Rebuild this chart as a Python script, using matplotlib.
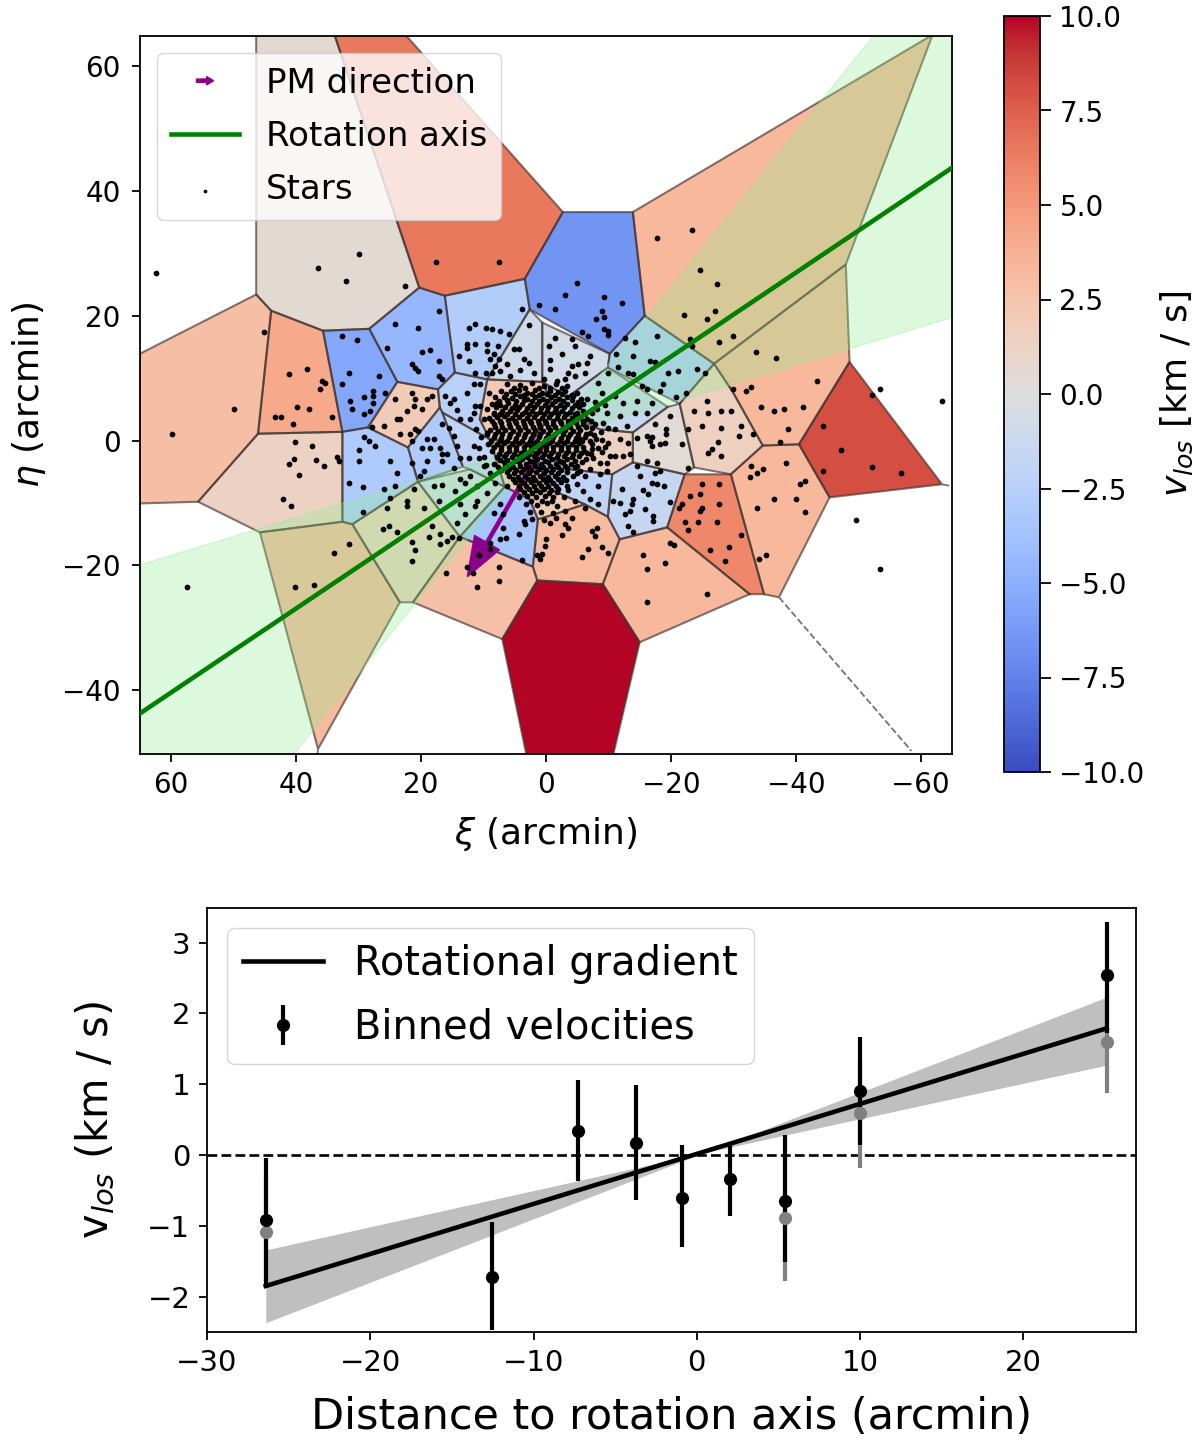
import matplotlib
matplotlib.use("Agg")
import matplotlib.pyplot as plt
import matplotlib.patches as mpatches
from matplotlib.legend_handler import HandlerPatch
from matplotlib.cm import ScalarMappable
from matplotlib.colors import Normalize

# ---- Voronoi cells: vertices (xi, eta) in arcmin, and mean velocity in km/s
cell_vertices = [
 [(66,13.4),(46.4,23.4),(44,20.8),(46.1,1.1),(55.7,-9.8),(66,-10.1)],
 [(46.4,66),(34.2,66),(20.3,24.5),(28.3,17.9),(35.7,17.6),(44,20.8),(46.4,23.4)],
 [(34.2,66),(23.4,66),(-2.7,36.6),(3.4,25.9),(16.2,23.2),(20.3,24.5)],
 [(-2.7,36.6),(-13.9,36.6),(-15.8,20),(-10.2,13.9),(2.6,21),(3.4,25.9)],
 [(16.2,23.2),(3.4,25.9),(2.6,21),(9.4,9.8),(14.6,10.9)],
 [(2.6,21),(0.6,18.9),(0.6,9.4),(9.4,9.8)],
 [(0.6,18.9),(-10.2,13.9),(-9.9,11.7),(-3.5,7),(0.6,9.4)],
 [(-15.8,20),(-26.9,12.3),(-21.4,5.9),(-9.9,11.7),(-10.2,13.9)],
 [(-13.9,36.6),(-61.9,65),(-48,28.2),(-26.9,12.3),(-15.8,20)],
 [(-48,28.2),(-48.6,12.6),(-40.5,-0.6),(-34.7,-0.8),(-29.9,7.8),(-26.9,12.3)],
 [(-48.6,12.6),(-63.4,-7),(-45.4,-9.1),(-40.5,-0.6)],
 [(-26.9,12.3),(-29.9,7.8),(-34.7,-0.8),(-29.6,-5.4),(-23.7,-4.3),(-21.4,5.9)],
 [(-21.4,5.9),(-19.5,5.4),(-13.9,1.3),(-13.9,-3.5),(-22.2,-5.4),(-23.7,-4.3)],
 [(-13.9,-3.5),(-10.6,-5.4),(-9.9,-12.2),(-11.8,-15.8),(-19.4,-13.9),(-22.2,-5.4)],
 [(-19.4,-13.9),(-22.2,-5.4),(-29.6,-5.4),(-34.9,-24.6),(-32.6,-24.6)],
 [(-29.6,-5.4),(-34.7,-0.8),(-40.5,-0.6),(-45.4,-9.1),(-37.3,-25.1),(-34.9,-24.6)],
 [(-11.8,-15.8),(-19.4,-13.9),(-32.6,-24.6),(-15,-32.3),(-9.1,-23)],
 [(1.4,-22.4),(-9.1,-23),(-15,-32.3),(-10.6,-51),(3,-51),(7,-31.8)],
 [(1.4,-22.4),(-9.1,-23),(-11.8,-15.8),(-9.9,-12.2),(-6.2,-10.2),(-1.4,-11.8),(1.3,-12.6),(2.1,-20.2)],
 [(21.3,-25.9),(13.8,-15.4),(2.1,-20.2),(1.4,-22.4),(7,-31.8)],
 [(13.8,-15.4),(6.6,-7.4),(2.6,-9.4),(1.3,-12.6),(2.1,-20.2)],
 [(20.5,-6.6),(12.2,-4.6),(6.6,-7.4),(13.8,-15.4)],
 [(45.8,-14.7),(32.6,-13),(31,-13.4),(23.4,-25.9),(36.5,-49.4)],
 [(31,-13.4),(20.5,-6.6),(13.8,-15.4),(21.3,-25.9),(23.4,-25.9)],
 [(32.6,1.4),(28.5,2.1),(22.1,-1.1),(20.5,-6.6),(31,-13.4),(32.6,-13)],
 [(23.8,9.4),(17.3,8.2),(17,5.3),(22.1,-1.1),(28.5,2.1)],
 [(35.7,17.6),(28.3,17.9),(23.8,9.4),(28.5,2.1),(32.6,1.4)],
 [(28.3,17.9),(20.3,24.5),(16.2,23.2),(14.6,10.9),(17.3,8.2),(23.8,9.4)],
 [(17,5.3),(16.6,4.5),(13.3,-4.2),(20.5,-6.6),(22.1,-1.1)],
 [(17.3,8.2),(14.6,10.9),(9.4,9.8),(10.6,3.4),(9,0.2),(16.6,4.5),(17,5.3)],
 [(13.3,-4.2),(16.6,4.5),(9,0.2),(6.6,-7.4),(12.2,-4.6)],
 [(9.4,9.8),(0.6,9.4),(-1.4,5),(2.6,-0.6),(9,0.2),(10.6,3.4)],
 [(0.6,9.4),(-3.5,7),(-9.9,11.7),(-19.5,5.4),(-13.9,1.3),(-8.6,1.8),(-1.4,5)],
 [(-1.4,5),(-8.6,1.8),(-13.9,1.3),(-13.9,-3.5),(-10.6,-5.4),(-3.8,-4.6),(2.6,-0.6)],
 [(2.6,-0.6),(-3.8,-4.6),(-10.6,-5.4),(-9.9,-12.2),(-6.2,-10.2),(-0.6,-7.8)],
 [(9,0.2),(2.6,-0.6),(-0.6,-7.8),(-6.2,-10.2),(-1.4,-11.8),(1.3,-12.6),(2.6,-9.4),(6.6,-7.4)],
 [(32.6,1.4),(46.1,1.1),(44,20.8),(35.7,17.6)],
 [(32.6,1.4),(46.1,1.1),(55.7,-9.8),(45.8,-14.7),(32.6,-13)],
]
cell_velocity = [2.9,0.5,6.5,-6.5,-2.8,-1.0,-0.8,-3.0,3.3,3.3,8.2,1.5,0.4,-1.7,5.8,3.3,3.3,10.0,
                 3.2,2.8,-3.5,-1.0,3.2,1.5,-3.0,2.0,-5.5,-4.5,-3.0,-2.5,-2.0,2.0,-1.5,1.5,-2.0,2.0,
                 4.2,1.4]

open_edge_xi = [-37.3,-58.5]
open_edge_eta = [-25.1,-49.7]
tail_xi = [36.5,36.6]
tail_eta = [-49.4,-50.2]
tail2_xi = [-63.4,-64.4]
tail2_eta = [-7,-7.2]

# ---- member stars (xi, eta) in arcmin
stars_outer = [
(62.5,26.9),(30,29.9),(36.5,27.6),(32,25.6),(22.5,24.7),(17.6,28.6),(7.5,28.6),(45.1,17.4),(50,5),(59.8,1.1),
(41.1,10.6),(38.2,11.5),(35.9,9.5),(35.4,9.2),(36.2,8.3),(39.8,5.3),(37.9,5),(43.4,3.7),(42.5,3.7),(40.5,2.7),
(34.3,3.7),(32.7,16.8),(30.3,16.1),(31.6,10.9),(32.6,9),(26.8,10.3),(27.7,7.9),(25.8,7.6),(29.1,7),(27.7,7.1),
(31.4,6.3),(27.7,6),(31,5),(28.2,4.7),(29.1,4.3),(24.2,18.7),(20.5,18.1),(17.2,20.7),(25.5,14.8),(19.8,14.2),
(18.6,14.5),(17.2,12.8),(21.5,12.2),(20.9,11.6),(20.5,11.1),(17.2,10.3),(16.7,9.8),(24.2,6.6),(21.5,7.6),(21,6.7),
(19.1,6.6),(18.3,7.1),(21.2,5.5),(22.3,4.7),(19.9,5),(23.9,3.4),(23.4,3.4),(26,2.3),(27.8,2.1),(23.4,1.1),
(21,1.8),(21.8,1),(21.5,-0.1),(20.5,1.5),(40.2,-0.2),(37.5,-0.9),(40.4,-2.9),(41.1,-3.8),(36.9,-3.1),(33.5,-2.6),
(33.2,-3.3),(35.5,-4.1),(39.5,-5.5),(42.1,-9.4),(40.9,-10.4),(29.1,0.5),(28.4,-0.1),(27.4,-0.9),(30,-1.5),(30,-3.3),
(25,-3.3),(23.8,-5.2),(31.6,-6.8),(29.3,-7.4),(26,-7.8),(24.2,-7.2),(25,-9.2),(29.3,-11.4),(25.5,-10.8),(22.2,-9.7),
(22.2,-10.4),(19.5,-10.8),(21.1,-7.7),(26.1,-14.1),(25.1,-13.7),(23.8,-14.6),(31.6,-16.6),(33.9,-18),(21.5,-16.3),(18.3,-13.7),
(18.8,-15.4),(17,-15.0),(16.9,-16.6),(15.9,-16.1),(15.1,-15.4),(13.9,-15.6),(20.9,-17.5),(21.5,-19.3),(57.5,-23.5),(40.2,-23.5),
(37.2,-23.2),(10.7,-18.3),(12.6,-20.2),(11.7,-21.2),(16,-21.2),(7.5,-20.2),(7.5,-22.5),(11,-23.5),(9,-17.4),(3.8,-19.2),
(1.5,-18.4),(0.7,-18.2),(3.8,21.1),(1.1,21.7),(2.8,18.5),
(11.4,18.7),(12.3,18.1),(9.6,18.1),(8.7,17.8),(7.4,17.5),(6,17),(12.7,15.5),(11.4,15.5),(12.7,14.8),(9.5,15.5),
(7.7,15.1),(9.5,14.3),(8.4,13.8),(5.2,14.6),(4.4,14.6),(14,13.5),(12.3,12.8),(7.6,13),(6.3,12.2),(8.2,11.9),
(9,13),(3.6,13),(2.8,12.4),(4.2,11.3),(9.6,10.8),(11.4,10.8),(8.7,10.8),(7.4,11.1),(2,10.8),(5.8,10.3),
(12.7,7.6),(14.8,6.6),(14.3,4.9),(16.2,7.1),(11.6,9),(10.6,9),(9.2,7.6),(11.6,4.4),(13.8,3.4),(10,3.4),
(11.4,5.5),(7.9,6),(8.4,4.4),(15.4,6),(12.2,3.4),(19.1,0.2),(18,0.2),(16.7,2.6),(15.6,2),(14.8,0.7),
(17,-1.2),(19.9,-1.2),(18.6,-1.2),(16.7,-2.2),(15.9,-2.2),(14.3,-0.9),(12.4,-2.8),(13.8,-2.8),(19.1,-3.3),(21.5,-3.6),
(16.7,-3.3),(11.6,-0.9),(9.5,1.2),(10.8,-2.8),(19.6,-4.9),(20.2,-5.7),(14.8,-4.4),(12.2,-5.7),(10,-4.1),(9,-5.2),
(18,-7.3),(16.7,-7.1),(13.8,-6.2),(14.6,-8.1),(13,-6.8),(11.1,-7.3),(17.2,-9.7),(13.8,-10.2),(11.4,-10.5),(9.5,-8.4),
(13,-11.7),(8.2,-6.8),(11.1,-9.7),(14.3,-13.2),(6.3,-7.3),(7.4,-10.2),(6.9,-11.8),(8.4,-11.6),(4.4,-15),(6.9,-14),
(3.4,-13.4),(3.6,-12.9),(7.4,-15.8),(6.4,-15.6),(9,-16.4),
(-17.8,32.4),(-23.4,33.8),(-24.7,27.3),(-27.3,25),(-22.1,20.1),(-27,20.7),(-25.7,19.5),(-30,16.8),(-27.7,15.8),(-23.3,15.2),
(-23,16.2),(-33.6,14.2),(-36.8,13.2),(-43.4,9.6),(-29.9,8.3),(-32,7.9),(-32.9,8.6),(-34.5,5.3),(-36.5,4.7),(-38.1,5),
(-41.1,5.3),(-38.8,1.8),(-37.5,-0.3),(-53.4,8.3),(-52.2,7.3),(-63.4,6.3),(-44.4,2.3),(-47.3,-1.5),(-44.4,-4.9),(-52.2,-4.2),
(-56.8,-5.2),(-49.6,-12.7),(-53.4,-20.5),(-25.7,6.3),(-23.7,4.7),(-26,4.4),(-28,4.7),(-29.6,4.7),(-25,2.3),(-28,2),
(-31.2,2.3),(-22.8,1.8),(-30.9,0.7),(-33.2,1.1),(-27.6,-0.3),(-26.5,-1.4),(-26,-2),(-28,-2.5),(-32.9,-4.1),(-34.8,-4.5),
(-33.8,-5.2),(-32.7,-5.8),(-38.4,-3.6),(-41.4,-6.5),(-40.7,-6.9),(-36.5,-9.4),(-40.1,-9.4),(-33.8,-10.8),(-41.4,-11.4),(-35.2,-18.4),
(-34.1,-18.9),(-25,-6.9),(-27.7,-6.9),(-23,-8.8),(-24.6,-8.5),(-27.7,-10.1),(-21.7,-10.1),(-21.3,-10.8),(-25,-10.8),(-24.6,-11.3),
(-22.3,-13.1),(-24.4,-13.1),(-27.3,-13.1),(-22.8,-14.4),(-31.2,-15.1),(-26.3,-17.6),(-29.3,-17),(-28.6,-19.3),(-19.8,-16.4),(-20.5,-16.7),
(-15.5,-18.4),(-19.1,-19.6),(-16.2,-20.5),(-25.7,-24.5),(-16.2,-25.8),(-6.7,-17.3),(-9,-17),(-10,-18),(-5.7,-18.6),(-7.8,-15.3),
(-7.3,-14.5),(-8.2,-14),(-3.6,-14),(-2.5,-15.1),(-0.6,-13.2),(0,-15.8),(0.2,-16.9),(-4.1,-12.4),(-3,-13.4),(1,-19),
(-5,25.2),(-3,23.3),(-9.3,23),(-12.2,22),(-1.4,21.1),(-8.9,20.7),(-9.3,19.8),(-8,19.5),(-9.3,17.8),(-10,16.9),
(-5.7,17.4),(-6.7,16.8),(-10,17.5),(-14.2,15.8),(-17.8,16.8),(-12.6,16.4),(-11.2,13.9),(-13.9,13.5),(-16.6,12.8),(-11.6,11.8),
(-13.2,10.8),(-14,10.6),(-19.5,10.9),(-21.1,11.2),(-24.1,11.5),(-25.4,10.8),(-18.8,9),(-18.2,7.9),(-16.1,8.3),(-15.3,8.7),
(-20.8,7),(-22.4,7.6),(-17.4,12.6),(-1.4,16.4),(-4.1,16.2),(-0.5,15.2),(-4.6,15.1),(-2.5,13.9),(-7,13.5),(-0.6,12.9),
(-6.5,12.4),(-5.2,12.2),(-4.1,11.9),(-0.6,11.4),(-3.6,10.8),(-6.2,10.8),(-4.6,10.3),(-3,9.8),(-1.7,9.5),(0.4,9.8),
(-19.8,4),(-17.4,2.7),(-19.2,1.8),(-19.2,1),(-14.5,0.4),(-16.1,0.7),(-16.9,0.6),(-16.6,-0.1),(-19,-0.4),(-18.2,-0.6),
(-21.8,-0.6),(-16.9,-0.9),(-16.1,-3.3),(-17.8,-3.6),(-13.5,-2.2),(-22.8,-4.4),(-14.5,-4.1),(-15,-5.7),(-17.4,-5.2),(-18.2,-4.9),
(-16.9,-6.8),(-17.7,-7),(-18.9,-7.2),(-12.1,-7.8),(-15.6,-7.9),(-16.4,-8.6),(-14,-9.4),(-19.8,-9.8),(-10.8,-9.7),(-11.8,-10),
(-13.7,-10.2),(-15.8,-11),(-13.4,-11.3),(-12.6,-11.7),(-17.2,-12.1),(-17.2,-12.9),(-13.2,-13.7),(-14,-14.6),
(-6,-8.1),(-8.4,-7.3),(-7.1,-9.4),(-8.4,-10.1),(-6.2,-10.8),(-4.6,-9.7),(-3.6,-7.9),(-6.2,-5.7),(-8.6,-5.4),(-9.7,-3.6),
(-8.4,9.2),(-10,10.8),(-8.9,7.6),(-11,7.1),(-12.4,6),(-14.5,6.3),(-16.9,6),(-14.2,4.4),(-16.1,4.4),(-11.8,3.9),
(-9.7,4.4),(-12.9,2.3),(-11,1.8),(-9.2,2.8),(-11.8,0.2),(-13.2,-0.4),(-10,-0.4),(-11,-2.5),(-12.4,-2.5),(-8.4,-1.2),
(-8.6,-3.6),(-6.5,6.6),(-7.3,4.4),(-7,1.2),(-6.5,-2),(-7,-4.6),(-4.9,-4.1),(-5.4,0.2),(-4.9,4.4),(-4.4,7.1),
]
# dense core of the galaxy
stars_core = [
(6.3,9.1),(4.1,8.9),(2.2,9.3),(0.3,8.8),(-1.6,9),(-3.3,8.7),
(7.2,8),(5.6,7.9),(4.4,8.1),(3.1,7.7),(1.8,8.1),(0.6,7.7),(-0.7,8),(-2,7.8),(-3.1,8),(-5,7.7),
(8.1,6.9),(6.8,7),(5.4,6.8),(4.2,7.1),(3,6.7),(1.7,7),(0.5,6.7),(-0.8,7),(-2.1,6.7),(-3.3,6.9),(-5.6,6.6),
(8.6,5.9),(7.4,5.7),(6.1,6),(5,5.7),(3.9,5.9),(2.6,5.7),(1.4,5.9),(0.2,5.7),(-1,5.9),(-2.2,5.7),(-3.4,5.9),(-4.7,5.7),(-6,5.8),
(7,4.8),(5.8,4.7),(4.6,4.9),(3.4,4.6),(2.2,4.8),(1,4.6),(-0.2,4.8),(-1.4,4.6),(-2.6,4.8),(-3.8,4.6),(-5.9,4.7),
(9.1,3.6),(7.9,3.7),(6.7,3.9),(5.5,3.6),(4.3,3.8),(3.1,3.6),(1.9,3.8),(0.7,3.6),(-0.5,3.8),(-1.7,3.6),(-2.9,3.8),(-4.1,3.6),(-5.4,3.8),(-6.5,3.5),
(8.4,2.6),(7.2,2.8),(6,2.6),(4.8,2.8),(3.6,2.6),(2.4,2.8),(1.2,2.6),(0,2.8),(-1.2,2.6),(-2.4,2.8),(-3.6,2.6),(-4.8,2.8),(-6,2.6),(-7.9,2.7),
(8.9,1.7),(7.7,1.5),(6.5,1.7),(5.3,1.5),(4.1,1.7),(2.9,1.5),(1.7,1.7),(0.5,1.5),(-0.7,1.7),(-1.9,1.5),(-3.1,1.7),(-4.3,1.5),(-5.5,1.7),(-8.8,1.3),
(10.4,0.5),(8.4,0.6),(7.2,0.4),(6,0.6),(4.8,0.4),(3.6,0.6),(2.4,0.4),(1.2,0.6),(0,0.4),(-1.2,0.6),(-2.4,0.4),(-3.6,0.6),(-4.8,0.4),(-6.2,0.5),(-8,0.3),
(9.3,-0.5),(7.9,-0.6),(6.7,-0.4),(5.5,-0.6),(4.3,-0.4),(3.1,-0.6),(1.9,-0.4),(0.7,-0.6),(-0.5,-0.4),(-1.7,-0.6),(-2.9,-0.4),(-4.1,-0.6),(-5.3,-0.4),(-7.4,-0.6),
(8.6,-1.7),(7.2,-1.5),(6,-1.7),(4.8,-1.5),(3.6,-1.7),(2.4,-1.5),(1.2,-1.7),(0,-1.5),(-1.2,-1.7),(-2.4,-1.5),(-3.6,-1.7),(-4.8,-1.5),(-6.1,-1.7),(-8.9,-1.9),
(7.9,-2.7),(6.7,-2.5),(5.5,-2.7),(4.3,-2.5),(3.1,-2.7),(1.9,-2.5),(0.7,-2.7),(-0.5,-2.5),(-1.7,-2.7),(-2.9,-2.5),(-4.1,-2.7),(-5.3,-2.5),(-7.6,-2.8),
(8.4,-3.7),(6.8,-3.5),(5.6,-3.7),(4.4,-3.5),(3.2,-3.7),(2,-3.5),(0.8,-3.7),(-0.4,-3.5),(-1.6,-3.7),(-2.8,-3.5),(-4,-3.7),(-5.8,-3.4),
(7.2,-4.7),(6,-4.5),(4.8,-4.7),(3.6,-4.5),(2.4,-4.7),(1.2,-4.5),(0,-4.7),(-1.2,-4.5),(-2.4,-4.7),(-3.4,-4.4),(-5.4,-4.8),
(5.9,-5.6),(4.5,-5.8),(3.3,-5.6),(2.1,-5.8),(0.9,-5.6),(-0.3,-5.8),(-1.5,-5.6),(-2.7,-5.8),(-4.4,-5.6),
(5,-6.7),(3.6,-6.8),(2.4,-6.6),(1.2,-6.8),(0,-6.6),(-1.2,-6.8),(-2.4,-6.6),(-5,-6.9),
(4.1,-7.8),(2.8,-7.7),(1.6,-7.9),(0.4,-7.7),(-0.8,-7.9),(-2,-7.7),
(4.4,-9),(3,-8.8),(1.6,-9),(0.2,-8.8),(-1.2,-9.1),(-2.9,-9),
(3.2,-10.1),(1.5,-10.3),(-0.1,-10),(-1.8,-10.4),
(2.6,-11.5),(0.8,-11.4),(-1.2,-11.6),(-3,-11.2),
(2.2,-12.6),(0.4,-12.8),(-1.6,-12.4),
]
stars_core_fill = [
(5.1,8.5),(3.3,8.4),(1.1,8.5),(-0.6,8.4),(-2.5,8.5),(6.4,7.4),(4.9,7.5),(3.6,7.3),(2.3,7.5),(1.1,7.3),(-0.2,7.5),(-1.4,7.3),(-2.6,7.4),(-4.2,7.3),
(7.6,6.4),(6.2,6.5),(4.8,6.3),(3.6,6.5),(2.3,6.3),(1.1,6.4),(-0.2,6.3),(-1.5,6.4),(-2.8,6.3),(-4.1,6.5),(-5.2,6.2),
(8,5.3),(6.6,5.3),(5.4,5.2),(4.3,5.4),(3,5.2),(1.9,5.4),(0.8,5.2),(-0.4,5.4),(-1.6,5.2),(-2.9,5.4),(-4.1,5.2),(-5.3,5.3),
(8.3,4.3),(7.3,4.2),(6.2,4.3),(5,4.2),(3.9,4.3),(2.8,4.2),(1.6,4.3),(0.4,4.2),(-0.8,4.3),(-2,4.2),(-3.2,4.3),(-4.6,4.2),(-6.3,4.2),
(8.6,3.1),(7.3,3.2),(6.1,3.3),(4.9,3.2),(3.7,3.2),(2.5,3.2),(1.3,3.2),(0.1,3.2),(-1.1,3.2),(-2.3,3.2),(-3.5,3.2),(-4.7,3.2),(-6,3.2),(-7.2,3.1),
(8.1,2.1),(7,2.1),(5.7,2.1),(4.5,2.2),(3.3,2.1),(2.1,2.2),(0.9,2.1),(-0.3,2.2),(-1.5,2.1),(-2.7,2.2),(-3.9,2.1),(-5.1,2.2),(-6.4,2.1),(-7.4,2),
(9.4,1.1),(8.2,1.1),(7.1,1),(5.8,1.1),(4.5,1),(3.3,1.1),(2.1,1),(0.9,1.1),(-0.3,1),(-1.5,1.1),(-2.7,1),(-3.9,1.1),(-5.1,1),(-6.4,1.1),(-7.7,0.9),
(8.8,0),(7.4,0),(6.2,0),(5,0),(3.8,0),(2.6,0),(1.4,0),(0.2,0),(-1,0),(-2.2,0),(-3.4,0),(-4.6,0),(-5.8,0),(-7,0),(-9,0.1),
(8.3,-1.1),(7.2,-1),(6,-1.1),(4.8,-1),(3.6,-1.1),(2.4,-1),(1.2,-1.1),(0,-1),(-1.2,-1.1),(-2.4,-1),(-3.6,-1.1),(-4.8,-1),(-6,-1.1),(-7.4,-1.3),
(7.6,-2.1),(6.4,-2.1),(5.2,-2.2),(4,-2),(2.8,-2.2),(1.6,-2),(0.4,-2.2),(-0.8,-2),(-2,-2.2),(-3.2,-2),(-4.4,-2.2),(-5.6,-2),(-7.2,-2.2),
(7.4,-3.1),(6.2,-3.1),(5,-3.2),(3.8,-3),(2.6,-3.2),(1.4,-3),(0.2,-3.2),(-1,-3),(-2.2,-3.2),(-3.4,-3),(-4.6,-3.2),(-6.4,-3),
(7.7,-4.2),(6.5,-4.1),(5.3,-4.2),(4.1,-4),(2.9,-4.2),(1.7,-4),(0.5,-4.2),(-0.7,-4),(-1.9,-4.2),(-3,-4),(-4.7,-4.2),
(6.3,-5.1),(5.2,-5.2),(4,-5.1),(2.8,-5.2),(1.6,-5.1),(0.4,-5.2),(-0.8,-5.1),(-2,-5.2),(-3.3,-5.1),(-4.9,-5.2),
(5.3,-6.1),(4.1,-6.3),(2.9,-6.1),(1.7,-6.3),(0.5,-6.1),(-0.7,-6.3),(-1.9,-6.1),(-3.2,-6.3),
(4.4,-7.2),(3.2,-7.3),(2,-7.2),(0.8,-7.3),(-0.4,-7.2),(-1.6,-7.3),(-3.4,-7.3),
(3.6,-8.3),(2.3,-8.4),(0.9,-8.3),(-0.5,-8.4),(-1.8,-8.3),(2.4,-9.6),(0.7,-9.6),(-1,-9.7),
(11.2,1.9),(10.8,-1.2),(9.9,-2.6),(9.6,-3.9),(10.6,5.6),(9.5,5),(-9.4,-1),(-9.9,2),(-9.5,5.7),(-7.9,6.2),(-8.2,5.1),(-10.3,-2.4),(-9.8,-4.8),
]

# ---- rotation axis and proper-motion direction
axis_xi = [-65, 65]
axis_eta = [43.7, -43.7]
band_xi = [-65, 0, 65]
band_low = [19.8, 0, -19.8]
band_high = [80.6, 0, -80.6]
pm_start = (0.0, 0.0)
pm_delta = (12.6, -21.8)

# ---- lower panel
bin_dist = [-26.4,-12.55,-7.3,-3.75,-0.92,2.02,5.4,9.98,25.1]
bin_vel = [-0.92,-1.72,0.34,0.17,-0.61,-0.34,-0.65,0.90,2.54]
bin_err_low = [0.96,0.75,0.71,0.81,0.69,0.52,0.86,0.76,0.82]
bin_err_high = [0.88,0.77,0.72,0.82,0.75,0.52,0.93,0.77,0.75]
gray_dist = [-26.4,5.4,9.98,25.1]
gray_vel = [-1.09,-0.89,0.59,1.60]
gray_err = [0.75,0.89,0.77,0.73]
fit_dist = [-26.4,25.1]
fit_vel = [-1.85,1.79]
band_dist = [-26.4,0.4,25.1]
band_vel_low = [-2.37,0.03,1.27]
band_vel_high = [-1.34,0.03,2.23]

W, H = 1200, 1446
fig = plt.figure(figsize=(12, 14.46), dpi=100)
def rect(x0, y0, x1, y1):
    return [x0/W, 1-y1/H, (x1-x0)/W, (y1-y0)/H]

SP = 1.3
for k in ['axes.linewidth','xtick.major.width','ytick.major.width']:
    plt.rcParams[k] = SP
plt.rcParams['xtick.major.size'] = 6
plt.rcParams['ytick.major.size'] = 6
plt.rcParams['xtick.major.pad'] = 6
plt.rcParams['ytick.major.pad'] = 6

ax = fig.add_axes(rect(140, 36, 952, 754))
norm = Normalize(-10, 10)
cmap = plt.get_cmap('coolwarm')
for verts, v in zip(cell_vertices, cell_velocity):
    ax.add_patch(mpatches.Polygon(verts, closed=True, facecolor=cmap(norm(v)), edgecolor='none', zorder=1))
for verts in cell_vertices:
    ax.add_patch(mpatches.Polygon(verts, closed=True, fill=False, edgecolor=(0.25,0.2,0.18,0.65), lw=1.5, zorder=1.2))
ax.plot(open_edge_xi, open_edge_eta, ls='--', color='0.45', lw=1.3, zorder=1.2)
ax.plot(tail_xi, tail_eta, color='0.45', lw=1.3, zorder=1.2)
ax.plot(tail2_xi, tail2_eta, color='0.45', lw=1.3, zorder=1.2)
ax.fill_between(band_xi, band_low, band_high, color='lightgreen', alpha=0.3, zorder=1.5)
arrow = ax.arrow(pm_start[0], pm_start[1], pm_delta[0], pm_delta[1], width=0.5, head_width=4.6,
                 head_length=6.3, length_includes_head=True, color='darkmagenta', zorder=2, label='PM direction')
axis_line, = ax.plot(axis_xi, axis_eta, color='green', lw=3.3, zorder=3, label='Rotation axis')
all_stars = stars_outer + stars_core + stars_core_fill
sc = ax.scatter([p[0] for p in all_stars], [p[1] for p in all_stars],
                s=17, color='k', linewidths=0, zorder=2.5, label='Stars')
ax.set_xlim(65, -65)
ax.set_ylim(-50.2, 64.8)
ax.set_xticks([60,40,20,0,-20,-40,-60])
ax.set_yticks([-40,-20,0,20,40,60])
ax.tick_params(labelsize=20)
ax.tick_params(axis='y', pad=8)
ax.set_xlabel(r'$\xi$ (arcmin)', fontsize=26, labelpad=12)
ax.set_ylabel(r'$\eta$ (arcmin)', fontsize=26, labelpad=10)

class ArrowHandler(HandlerPatch):
    def create_artists(self, legend, orig, xd, yd, w, h, fs, trans):
        p = mpatches.FancyArrow(w*0.38, h*0.5, w*0.25, 0, width=2.4, head_width=6, head_length=5,
                                length_includes_head=True, color='darkmagenta')
        p.set_transform(trans)
        return [p]

ax.legend(handles=[arrow, axis_line, sc], fontsize=24.5, labelspacing=0.6,
          handler_map={mpatches.FancyArrow: ArrowHandler()}, loc='upper left', markerscale=0.65)

cax = fig.add_axes(rect(1004, 16, 1040, 772))
cb = fig.colorbar(ScalarMappable(norm=norm, cmap=cmap), cax=cax, ticks=[-10,-7.5,-5,-2.5,0,2.5,5,7.5,10])
cb.ax.tick_params(labelsize=20, length=8)
cb.outline.set_linewidth(SP)
cb.set_label(r'$v_{los}$ [km / s]', fontsize=26, labelpad=10)

ax2 = fig.add_axes(rect(207, 908, 1136, 1332))
ax2.fill_between(band_dist, band_vel_low, band_vel_high, color='gray', alpha=0.5, lw=0, zorder=1)
ax2.axhline(0, color='k', ls='--', lw=1.9, zorder=2)
ax2.errorbar(gray_dist, gray_vel, yerr=gray_err, fmt='none', ecolor='gray', elinewidth=3, zorder=2.2)
fit_line, = ax2.plot(fit_dist, fit_vel, color='k', lw=3.3, zorder=3, label='Rotational gradient')
ax2.errorbar(bin_dist, bin_vel, yerr=[bin_err_low, bin_err_high], fmt='none', ecolor='k', elinewidth=3, zorder=3)
ax2.plot(gray_dist, gray_vel, 'o', color='gray', ms=9.5, mew=0, zorder=3.5)
ax2.plot(bin_dist, bin_vel, 'o', color='k', ms=9.5, mew=0, zorder=4)
proxy = ax2.errorbar([], [], yerr=[], fmt='o', color='k', ms=9.5, mew=0, elinewidth=3, label='Binned velocities')
ax2.set_xlim(-30, 26.9)
ax2.set_ylim(-2.5, 3.49)
ax2.set_xticks([-30,-20,-10,0,10,20])
ax2.set_yticks([-2,-1,0,1,2,3])
ax2.tick_params(labelsize=21)
ax2.set_xlabel('Distance to rotation axis (arcmin)', fontsize=31, labelpad=14)
ax2.set_ylabel(r'v$_{los}$ (km / s)', fontsize=30, labelpad=22)
ax2.legend(handles=[fit_line, proxy], fontsize=28.7, labelspacing=0.6, loc='upper left')

fig.savefig('out.png', dpi=100)
